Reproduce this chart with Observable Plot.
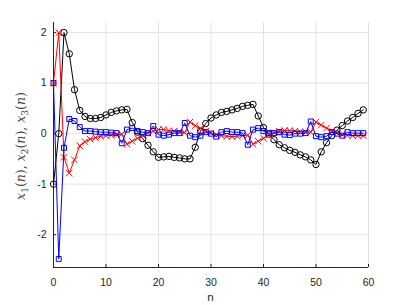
<!DOCTYPE html>
<html><head><meta charset="utf-8">
<script src="https://cdn.jsdelivr.net/npm/d3@7"></script>
<script src="https://cdn.jsdelivr.net/npm/@observablehq/plot@0.6"></script>
<style>body{margin:0;background:#fff}#chart{width:407px;height:305px}</style>
</head><body><div id="chart"></div>
<script>
const n = d3.range(60);
const x1 = [-1, 0, 2.0, 1.58, 0.87, 0.46, 0.34, 0.30, 0.30, 0.32,
  0.37, 0.42, 0.45, 0.47, 0.48, 0.22, 0.03, -0.10, -0.23, -0.36,
  -0.47, -0.46, -0.45, -0.47, -0.48, -0.50, -0.50, -0.27, 0.05, 0.20,
  0.31, 0.37, 0.42, 0.44, 0.47, 0.50, 0.54, 0.56, 0.58, 0.35,
  0.12, -0.01, -0.12, -0.22, -0.28, -0.33, -0.37, -0.42, -0.46, -0.52,
  -0.61, -0.36, -0.18, -0.04, 0.07, 0.16, 0.25, 0.32, 0.40, 0.47];
const x2 = [1, 2, -0.47, -0.78, -0.52, -0.24, -0.16, -0.11, -0.08, -0.05,
  -0.04, -0.03, -0.02, -0.01, -0.21, -0.15, -0.09, -0.04, 0.01, 0.05,
  0.08, 0.08, 0.06, 0.05, 0.03, 0.02, 0.23, 0.16, 0.10, 0.05,
  0.01, -0.02, -0.04, -0.05, -0.06, -0.05, -0.04, -0.03, -0.21, -0.15,
  -0.09, -0.03, 0.02, 0.05, 0.06, 0.06, 0.05, 0.04, 0.03, 0.03,
  0.23, 0.17, 0.11, 0.05, 0.01, -0.02, -0.03, -0.04, -0.04, -0.04];
const x3 = [1, -2.48, -0.28, 0.29, 0.25, 0.13, 0.05, 0.05, 0.04, 0.03,
  0.03, 0.02, 0.01, -0.19, 0.08, 0.11, 0.05, 0.03, 0.01, 0.15,
  -0.02, -0.04, -0.02, 0.01, 0.01, 0.21, -0.04, -0.07, -0.04, 0.03,
  0.00, -0.06, 0.03, 0.05, 0.03, 0.03, 0.01, -0.22, 0.08, 0.11,
  0.05, 0.01, 0.01, 0.03, -0.02, -0.03, 0.00, 0.00, 0.01, 0.24,
  -0.05, -0.07, -0.05, 0.03, 0.00, -0.04, 0.03, 0.01, 0.01, 0.01];
const xTicks = [0, 10, 20, 30, 40, 50, 60];
const yTicks = [-2, -1, 0, 1, 2];
const xDomain = [0, 60];
const yDomain = [-2.65, 2.2];
const xLabel = "n";

const rows = (ys) => n.map((k, i) => ({n: k, v: ys[i]}));
const s1 = rows(x1), s2 = rows(x2), s3 = rows(x3);
const axisColor = "#262626";

const plot = Plot.plot({
  width: 407, height: 305,
  marginLeft: 53, marginRight: 39, marginTop: 22, marginBottom: 38,
  style: {fontFamily: "'Liberation Sans', Arial, sans-serif", fontSize: "10.5px", color: axisColor, background: "#fff", overflow: "visible"},
  x: {domain: xDomain},
  y: {domain: yDomain},
  marks: [
    Plot.gridX(xTicks, {stroke: "#e3e3e3", strokeOpacity: 1}),
    Plot.gridY(yTicks, {stroke: "#e3e3e3", strokeOpacity: 1}),
    Plot.ruleX([xDomain[0]], {stroke: axisColor}),
    Plot.ruleY([yDomain[0]], {stroke: axisColor}),
    Plot.axisX(xTicks, {tickSize: -3, tickPadding: 14, tickFormat: d => String(d), label: null, fontSize: 10.5}),
    Plot.axisY(yTicks, {tickSize: -3, tickPadding: 10, tickFormat: d => d < 0 ? "-" + Math.abs(d) : String(d), label: null, fontSize: 10.5}),
    Plot.line(s1, {x: "n", y: "v", stroke: "#000", strokeWidth: 1}),
    Plot.dot(s1, {x: "n", y: "v", r: 3.2, symbol: "circle", stroke: "#000", fill: "none", strokeWidth: 1}),
    Plot.line(s2, {x: "n", y: "v", stroke: "#ff0000", strokeWidth: 1}),
    Plot.dot(s2, {x: "n", y: "v", r: 3.0, symbol: "times", stroke: "#ff0000", fill: "none", strokeWidth: 1}),
    Plot.line(s3, {x: "n", y: "v", stroke: "#0000ff", strokeWidth: 1}),
    Plot.dot(s3, {x: "n", y: "v", r: 2.8, symbol: "square", stroke: "#0000ff", fill: "none", strokeWidth: 1})
  ]
});
document.getElementById("chart").appendChild(plot);

const svg = d3.select(plot);
// x-axis label
svg.append("text")
  .attr("x", 210.5).attr("y", 301)
  .attr("text-anchor", "middle")
  .attr("fill", axisColor)
  .style("font-family", "'Liberation Sans', Arial, sans-serif")
  .style("font-size", "11.5px")
  .text(xLabel);

// y-axis label with subscripts (LaTeX-like serif italic)
const t = svg.append("text")
  .attr("transform", "translate(25,146) rotate(-90)")
  .attr("text-anchor", "middle")
  .attr("fill", "#444")
  .style("font-family", "'DejaVu Serif', 'Liberation Serif', serif")
  .style("font-size", "12.5px");
const parts = [["x","1","(n), "],["x","2","(n), "],["x","3","(n)"]];
parts.forEach(([a, s, b]) => {
  t.append("tspan").style("font-style", "italic").text(a);
  t.append("tspan").attr("dy", 3).style("font-size", "9px").text(s);
  t.append("tspan").attr("dy", -3).text("(");
  t.append("tspan").style("font-style", "italic").text("n");
  t.append("tspan").text(b.slice(2));
});
</script>
</body></html>
